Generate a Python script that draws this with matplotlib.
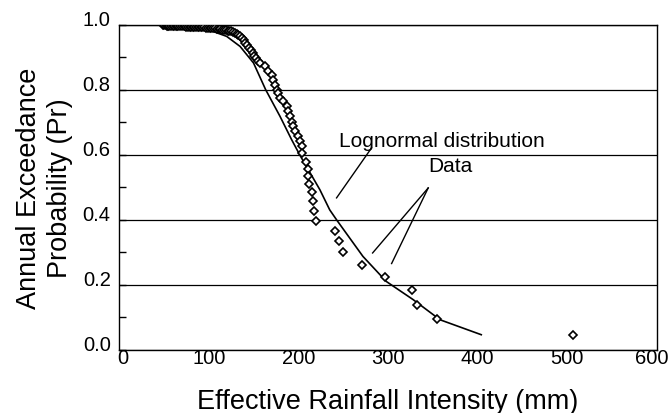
import matplotlib
matplotlib.use("Agg")
import matplotlib.pyplot as plt
from matplotlib.transforms import ScaledTranslation

plt.rcParams['font.family'] = ['Liberation Sans', 'DejaVu Sans']

# Observed data (effective rainfall intensity, annual exceedance probability)
data_x = [49, 50, 52, 53, 55, 56, 58, 60, 61, 63, 65, 66, 68, 70, 72, 73, 75, 77, 79, 80,
          82, 84, 86, 88, 89, 91, 93, 95, 97, 99, 101, 103, 105, 107, 109, 111, 113, 115,
          117, 119, 121, 123, 125, 127, 129, 131, 133, 135, 137, 139, 141, 143, 145, 147,
          149, 151, 153, 155,
          157.2, 162.8, 166.4, 170.2, 172.0, 173.9, 175.8, 177.6, 179.5, 183.2, 187.0,
          188.7, 190.6, 192.5, 194.3, 196.2, 199.9, 201.8, 203.7,
          203.7, 208.5, 210.4, 211.0, 212.2, 214.8, 216.0, 217.7, 219.6,
          241, 245, 250, 271.5, 297, 327, 332, 355, 506]
data_y = [0.999, 0.998, 0.998, 0.997, 0.997, 0.997, 0.997, 0.996, 0.996, 0.996, 0.996, 0.995,
          0.995, 0.995, 0.995, 0.995, 0.994, 0.994, 0.994, 0.994, 0.993, 0.993, 0.993, 0.993,
          0.992, 0.992, 0.992, 0.992, 0.991, 0.991, 0.991, 0.990, 0.990, 0.989, 0.988, 0.987,
          0.986, 0.985, 0.984, 0.983, 0.982, 0.982, 0.979, 0.976, 0.973, 0.971, 0.969, 0.966,
          0.960, 0.952, 0.945, 0.937, 0.929, 0.921, 0.913, 0.904, 0.896, 0.888,
          0.882, 0.872, 0.856, 0.846, 0.831, 0.815, 0.800, 0.790, 0.774, 0.764, 0.749,
          0.733, 0.718, 0.702, 0.687, 0.672, 0.656, 0.641, 0.626,
          0.605, 0.577, 0.556, 0.535, 0.510, 0.484, 0.456, 0.426, 0.397,
          0.366, 0.333, 0.300, 0.262, 0.223, 0.183, 0.138, 0.094, 0.046]

# Fitted lognormal curve
curve_x = [0, 60, 90, 101, 120, 135, 150, 163.5, 179.5, 192.5, 202, 224, 235, 243,
           272, 298, 328, 358, 404]
curve_y = [1.0, 1.0, 0.997, 0.983, 0.964, 0.933, 0.882, 0.800, 0.718, 0.646, 0.597,
           0.492, 0.430, 0.398, 0.287, 0.210, 0.154, 0.092, 0.046]

x_ticks = [0, 100, 200, 300, 400, 500, 600]
y_ticks = [0.0, 0.2, 0.4, 0.6, 0.8, 1.0]
y_tick_labels = ["0.0", "0.2", "0.4", "0.6", "0.8", "1.0"]

fig = plt.figure(figsize=(6.69, 4.14), dpi=100)
ax = fig.add_axes([0.178, 0.153, 0.804, 0.785])

ax.plot(curve_x, curve_y, color='black', lw=1.2, zorder=3)
ax.plot(data_x, data_y, linestyle='none', marker='D', markersize=4.2,
        markerfacecolor='white', markeredgecolor='black', markeredgewidth=1.2, zorder=4)

ax.set_xlim(0, 600)
ax.set_ylim(0, 1.0)
ax.set_xticks(x_ticks)
ax.set_xticklabels([str(v) for v in x_ticks])
ax.set_yticks(y_ticks)
ax.set_yticklabels(y_tick_labels)
ax.set_yticks([0.1, 0.3, 0.5, 0.7, 0.9], minor=True)
ax.tick_params(axis='y', which='both', direction='in', length=5, width=1, labelsize=14.5, pad=6)
ax.tick_params(axis='x', which='both', length=0, labelsize=14.5, pad=1)
for lab in ax.get_yticklabels():
    lab.set_transform(lab.get_transform() + ScaledTranslation(0, 5 / 72, fig.dpi_scale_trans))
xlabs = ax.get_xticklabels()
for i, lab in enumerate(xlabs):
    dx = 0
    if i == 0:
        dx = 3
    elif i == len(xlabs) - 1:
        dx = -4
    lab.set_transform(lab.get_transform() + ScaledTranslation(dx / 72, 2 / 72, fig.dpi_scale_trans))

ax.grid(axis='y', which='major', color='black', lw=0.9)
for s in ax.spines.values():
    s.set_color('black')
    s.set_linewidth(1.0)

ax.set_xlabel("Effective Rainfall Intensity (mm)", fontsize=19.5, labelpad=15)
ax.set_ylabel("Annual Exceedance\nProbability (Pr)", fontsize=19.5, labelpad=7,
              linespacing=1.25)

ax.text(360, 0.626, "Lognormal distribution", fontsize=15, ha='center', va='baseline')
ax.text(369, 0.549, "Data", fontsize=15, ha='center', va='baseline')
ax.plot([281.7, 242.6], [0.621, 0.467], color='black', lw=1.0)
ax.plot([344.8, 282.8], [0.4975, 0.2975], color='black', lw=1.0)
ax.plot([344.8, 304.0], [0.4975, 0.265], color='black', lw=1.0)

fig.savefig("out.png", dpi=100)
